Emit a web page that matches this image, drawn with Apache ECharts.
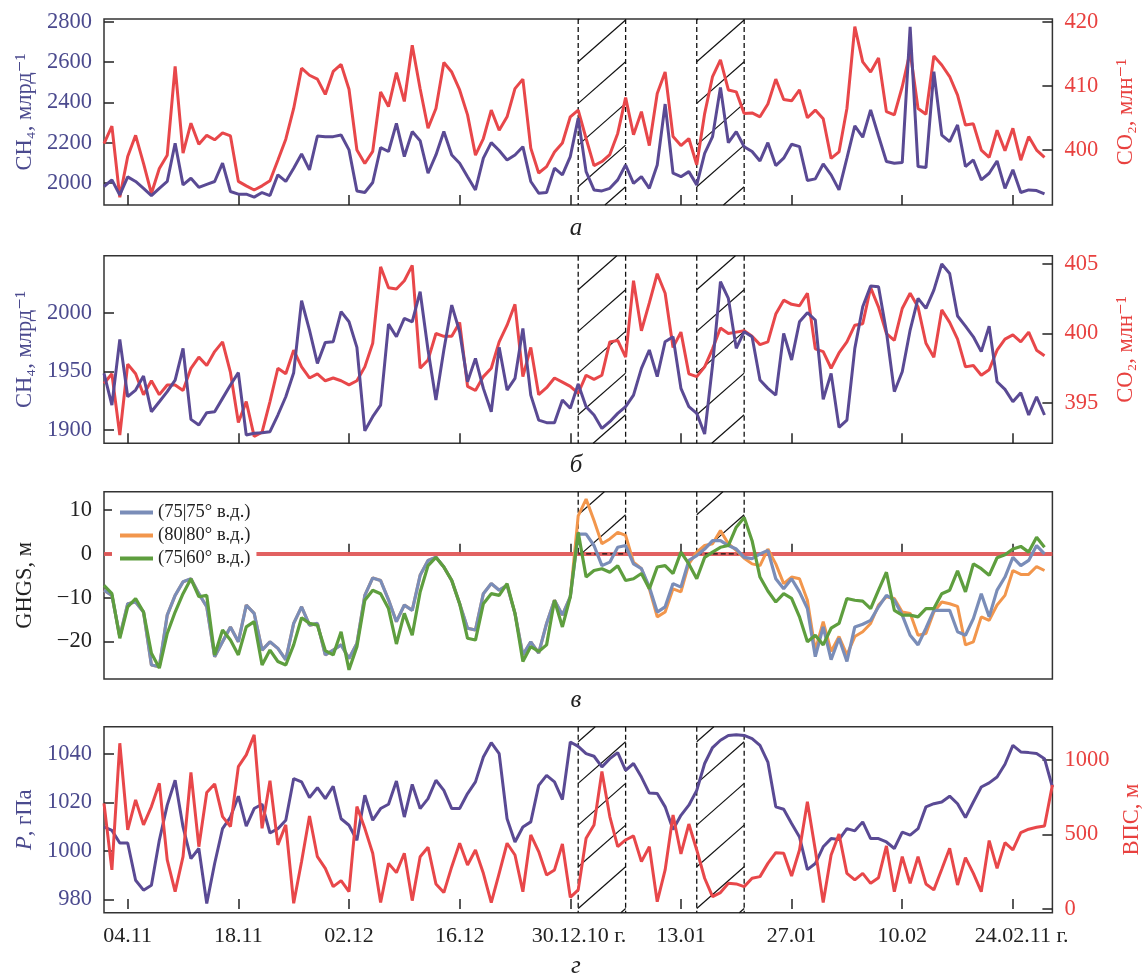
<!DOCTYPE html>
<html><head><meta charset="utf-8">
<script src="https://cdn.jsdelivr.net/npm/echarts@6/dist/echarts.min.js"></script>
<style>html,body{margin:0;padding:0;background:#fff}#c{width:1143px;height:979px}</style>
</head><body><div id="c"></div>
<script>
// ---- data (daily, day 0 = 01.11.2010) ----
const startDate = '01.11.2010';
const tickDays = [3, 17, 31, 45, 59, 73, 87, 101, 115];
const tickLabels = ['04.11','18.11','02.12','16.12','30.12.10 г.','13.01','27.01','10.02','24.02.11 г.'];
const hatchStarts = [60, 75];
const hatchEnds = [66, 81];

const ch4A = [1982,2015,1940,2030,2007,1973,1937,1973,2007,2197,1990,2023,1978,1993,2007,2098,1957,1944,1944,1929,1952,1937,2040,2007,2073,2144,2065,2233,2230,2230,2238,2164,1960,1952,2002,2175,2156,2296,
 2131,2255,2210,2048,2139,2255,2139,2098,2031,1965,2123,2200,2161,2114,2139,2180,2007,1949,1952,2073,2040,2131,2321,2056,1965,1960,1973,2015,2089,1998,2031,1973,2089,2392,2048,2031,2056,1990,2147,2230,2475,2200,2255,
 2180,2156,2109,2200,2086,2123,2192,2180,2012,2020,2094,2040,1965,2123,2283,2227,2363,2233,2106,2098,2101,2776,2081,2076,2553,2238,2205,2288,2081,2114,2015,2048,2109,1973,2065,1952,1965,1962,1945];
const co2A = [401.0,403.75,392.6,399.0,402.3,397.9,393.2,397.1,399.2,413.1,399.5,404.2,400.9,402.3,401.6,402.7,402.2,395.1,394.4,393.75,394.4,395.2,398.4,401.7,406.5,412.8,411.7,411.1,408.7,412.3,413.4,409.5,400.0,397.9,399.8,409.1,406.8,412.1,
 407.6,416.4,409.6,403.4,406.5,413.7,412.2,409.4,405.5,399.2,401.8,406.25,403.1,405.2,409.6,411.1,400.3,396.4,397.4,399.7,401.1,405.2,406.25,401.8,397.55,398.2,399.3,402.6,408.2,402.4,406.0,400.7,408.85,412.2,402.1,400.7,401.8,397.7,405.7,411.5,414.1,409.4,409.1,
 405.7,405.8,405.2,407.2,411.1,407.9,407.7,409.4,405.05,406.25,404.9,398.7,399.7,406.5,419.3,413.8,412.2,414.4,406.0,405.5,409.9,415.4,406.5,405.6,414.7,413.3,411.5,408.6,403.9,404.1,400.0,398.85,403.1,399.9,403.4,398.4,402.1,400.0,398.85];
const ch4B = [1948.3,1921.3,1977.3,1928.4,1934.1,1946.0,1915.6,1924.1,1932.7,1942.6,1969.6,1909.1,1904.3,1914.8,1915.6,1927.0,1938.4,1948.9,1895.7,1897.2,1897.7,1898.6,1912.8,1928.4,1948.9,2010.2,1985.2,1956.8,1974.7,1975.3,2000.9,1992.3,1970.5,1899.4,1911.4,1921.3,1990.3,1979.5,
 1995.2,1992.3,2017.9,1968.2,1925.6,1968.2,2006.5,1983.8,1941.2,1961.1,1935.5,1915.6,1970.5,1934.1,1944.0,1986.6,1929.8,1908.5,1906.3,1906.3,1925.6,1918.5,1939.2,1919.9,1912.8,1901.4,1907.1,1914.2,1919.9,1929.8,1952.6,1968.2,1945.5,1975.3,1979.5,1935.5,1919.9,1914.2,1896.6,1955.4,2026.4,2012.2,1969.6,
 1983.8,1979.5,1942.6,1935.5,1929.8,1982.4,1959.7,1992.3,2000,1993.8,1926.1,1948.3,1902.3,1908.5,1969.6,2005.1,2022.7,2022.2,1983.8,1932.7,1949.7,1985.2,2012.2,2003.7,2019.3,2041.5,2033.5,1997.2,1988.6,1979.5,1966.8,1988.6,1941.2,1934.7,1924.1,1931.8,1912.8,1928.4,1912.8];
const co2B = [396.4,397.1,392.7,397.8,397.1,395.6,396.6,395.6,396.3,396.3,395.9,397.5,398.3,397.7,398.7,399.4,397.2,393.6,395.1,392.6,392.9,395.1,397.5,397.1,398.8,397.6,396.8,397.1,396.6,396.8,396.6,396.3,396.6,397.6,399.3,404.8,403.3,403.2,
 403.8,404.9,397.5,398.1,400.0,399.8,399.8,400.8,396.2,395.9,396.9,397.5,399.4,400.6,402.1,396.9,399.0,395.6,396.1,396.8,396.5,396.2,395.7,397.0,396.7,397.0,399.4,399.5,398.3,403.8,400.2,402.2,404.3,402.9,399.0,400.1,397.1,396.9,397.6,398.9,400.4,400.0,400.1,
 400.2,399.8,399.2,399.4,401.4,402.4,402.1,402.0,402.9,398.9,398.7,397.5,398.6,399.4,400.6,400.7,403.3,401.9,400.0,399.5,401.8,402.9,401.9,399.3,398.3,401.7,400.8,399.6,397.6,397.7,397.0,397.4,398.8,399.6,399.9,399.4,400.1,398.8,398.4];
const ghgs7575 = [-8.3,-9.5,-18.9,-11.4,-11.0,-13.3,-25.4,-25.8,-14.0,-9.5,-6.4,-5.7,-9.1,-12.1,-23.5,-20.1,-16.7,-20.1,-11.7,-13.6,-22.0,-20.1,-21.6,-24.2,-15.9,-12.1,-16.3,-15.9,-23.1,-22.0,-20.8,-23.9,-20.5,-9.5,-5.5,-6.1,-10.5,-15.5,
 -11.7,-12.9,-4.9,-1.5,-0.8,-3.0,-6.1,-11.4,-17.0,-17.4,-9.1,-6.8,-8.3,-7.2,-13.6,-23.1,-20.1,-22.7,-15.9,-10.6,-14.0,-9.8,4.5,
 4.5,1.9,-2.7,-1.9,1.5,1.9,-2.3,-3.4,-7.6,-13.3,-12.1,-6.8,-7.6,-1.5,-0.4,1.1,3.0,3.0,1.9,1.1,
 -0.8,-1.1,0,0.8,-5.7,-8.0,-5.7,-8.7,-12.5,-23.5,-16.7,-24.2,-19.3,-24.6,-16.7,-16.1,-15.2,-12.1,-9.5,-10.6,-14.0,-18.6,-20.8,-17.0,-12.9,-12.9,-12.9,-17.8,-18.6,-14.8,-9.1,-14.4,-8.3,-5.3,-0.8,-2.7,-1.5,1.9,0];
const ghgs8080 = [-8.3,-9.5,-18.9,-11.4,-11.0,-13.3,-25.4,-25.8,-14.0,-9.5,-6.4,-5.7,-9.1,-12.1,-23.5,-20.1,-16.7,-20.1,-11.7,-13.6,-22.0,-20.1,-21.6,-24.2,-15.9,-12.1,-16.3,-15.9,-23.1,-22.0,-20.8,-23.9,-20.5,-9.5,-5.5,-6.1,-10.5,-15.5,
 -11.7,-12.9,-4.9,-1.5,-0.8,-3.0,-6.1,-11.4,-17.0,-17.4,-9.1,-6.8,-8.3,-7.2,-13.6,-23.1,-20.1,-22.7,-15.9,-10.6,-14.0,-9.8,
 8.7,12.5,7.6,2.3,3.4,4.9,4.2,-1.9,-3.4,-8.0,-14.4,-13.3,-8.0,-8.7,-2.3,0.4,1.9,2.3,5.3,2.3,0.8,-1.0,-2.3,-2.7,1.1,-2.3,-6.8,-5.3,-5.7,-10.6,-22.0,-15.5,-22.3,-18.9,-23.1,-18.9,-17.8,-15.9,-11.7,-9.8,-10.2,-13.3,-13.6,-18.6,-18.2,-13.3,-11.0,-11.4,-12.0,-20.8,-20.1,-14.4,-15.2,-11.7,-9.5,-3.8,-4.7,-4.7,-2.9,-3.8];
const ghgs7560 = [-7.2,-9.1,-19.3,-12.1,-10.2,-13.3,-22.7,-26.1,-18.2,-13.3,-9.1,-5.7,-9.8,-9.5,-23.1,-17.4,-19.7,-23.1,-16.7,-15.5,-25.4,-22.0,-24.6,-25.4,-20.8,-14.6,-15.9,-16.3,-22.1,-23.1,-17.8,-26.5,-21.2,-10.6,-8.3,-9.1,-12.5,-20.6,
 -13.6,-18.6,-8.7,-2.7,-0.8,-3.0,-6.1,-11.4,-19.3,-19.7,-11.4,-9.1,-9.5,-6.8,-13.6,-24.6,-21.2,-22.3,-20.8,-10.6,-16.7,-9.8,4.9,
 -5.3,-3.8,-3.4,-4.2,-2.7,-6.1,-5.7,-4.5,-8.0,-3.0,-2.7,-4.5,0.4,-2.3,-5.7,-0.8,0.4,1.5,1.9,6.1,
 8.3,3.0,-5.3,-8.5,-11.0,-9.1,-10.2,-14.4,-20.1,-18.6,-20.8,-17.0,-15.9,-10.2,-10.6,-10.8,-12.5,-8.3,-4.2,-12.9,-14.0,-14.0,-14.4,-12.5,-12.5,-9.1,-8.3,-3.9,-8.7,-2.3,-3.4,-4.9,-0.9,-0.2,1.1,1.7,0.4,3.8,1.5];
const pressure = [1009.9,1008.5,1003.3,1003.3,987.9,983.8,985.8,1004.4,1018.9,1029.2,1009.9,996.8,1001.0,978.3,994.8,1009.2,1014.0,1022.6,1010.2,1017.5,1019.3,1007.4,1009.2,1012.7,1029.9,1028.5,1022.0,1026.1,1021.6,1026.7,1013.3,1010.6,1004.4,1023.0,1012.7,1017.5,1019.3,1028.9,
 1014.0,1027.5,1017.5,1021.6,1029.2,1025.0,1017.5,1017.5,1023.7,1028.5,1038.8,1044.7,1040.2,1013.3,1003.7,1009.9,1012.0,1027.1,1031.2,1028.5,1021.2,1045.0,1043.2,1040.2,1039.1,1034.7,1038.1,1040.6,1033.3,1036.1,1030.5,1023.9,1023.7,1018.2,1008.8,1014.7,1018.9,1025.0,1036.1,1042.7,1045.7,1047.7,1048.0,
 1047.7,1046.4,1043.6,1036.7,1018.2,1017.2,1011.3,1005.8,992.3,994.8,1001.7,1005.1,1004.7,1009.2,1008.3,1012.0,1005.1,1005.1,1003.7,1001.0,1007.8,1006.5,1009.2,1018.2,1019.5,1020.2,1022.6,1019.5,1013.8,1020.2,1026.4,1028.1,1030.5,1035.8,1043.6,1040.9,1040.6,1040.2,1038.1,1026.4];
const vps = [709,262,1112,530,732,564,687,843,329,116,351,917,418,781,839,620,553,955,1034,1168,541,861,430,564,38,318,624,351,273,150,190,116,687,541,374,43,306,244,
 374,56,351,414,168,110,284,441,295,396,239,43,239,441,362,116,497,385,228,262,436,78,128,474,564,922,620,418,463,490,318,418,49,262,631,369,570,396,206,83,110,172,168,
 150,206,217,306,378,374,221,396,720,396,43,362,503,239,195,239,172,210,423,116,351,172,351,168,128,266,407,161,345,239,116,459,273,445,396,512,535,548,557,832];

// ---- style ----
const FONT = '"Liberation Serif", "DejaVu Serif", serif';
const PURPLE = '#5a4a94', RED = '#e8474a', LBL_BLUE = '#4b4a8e', LBL_RED = '#e8413f', INK = '#222';
const GX = 104, GW = 948.4;
const panels = [
  {top: 19, height: 186},
  {top: 255.7, height: 187.6},
  {top: 491.7, height: 187.3},
  {top: 726.7, height: 186}
];
const hatchOffsets = [1, 34, 23, 15];
const HSTEP = 41.7;

const pairs = a => a.map((v, i) => [i, v]);
const minus = v => String(v).replace('-', '\u2212');

function xAxisFor(i) {
  return {
    type: 'value', gridIndex: i, min: 0, max: 120,
    axisLine: {show: false}, splitLine: {show: false},
    axisTick: {inside: true, length: 10, customValues: tickDays, lineStyle: {color: INK, width: 1.5}},
    axisLabel: {
      show: i === 3, customValues: tickDays, margin: 13, fontSize: 22, color: INK, fontFamily: FONT,
      formatter: v => {
        const t = tickLabels[tickDays.indexOf(v)] || '';
        if (t.endsWith(' г.')) return '{h| г.}' + t.slice(0, -3) + '{v| г.}';
        return t;
      },
      rich: {
        h: {color: 'rgba(0,0,0,0)', fontSize: 22, fontFamily: FONT},
        v: {color: INK, fontSize: 22, fontFamily: FONT}
      }
    }
  };
}
function yAxisFor(g, pos, min, max, vals, color, name, gap, rich) {
  return {
    type: 'value', gridIndex: g, position: pos, min, max,
    axisLine: {show: false}, splitLine: {show: false},
    axisTick: {inside: true, length: 10, customValues: vals, lineStyle: {color: INK, width: 1.5}},
    axisLabel: {customValues: vals, margin: 12, fontSize: 22.5, color, fontFamily: FONT, formatter: minus},
    name, nameLocation: 'middle', nameGap: gap,
    nameTextStyle: {fontSize: 22.5, color, fontFamily: FONT, rich: rich || {}}
  };
}

function hatchSeries(g, yIdx, zeroBase) {
  const off = hatchOffsets[g];
  return {
    type: 'custom', xAxisIndex: g, yAxisIndex: yIdx, z: 1, silent: true, clip: false,
    data: hatchStarts.map((s, i) => [s, hatchEnds[i]]),
    encode: {x: [0, 1]},
    renderItem: (params, api) => {
      const cs = params.coordSys;
      const xL = api.coord([api.value(0), 0])[0];
      const xR = api.coord([api.value(1), 0])[0];
      const yT = cs.y;
      const yB = zeroBase ? api.coord([api.value(0), 0])[1] : cs.y + cs.height;
      const w = xR - xL, s = HSTEP / w;
      const ch = [];
      const dash = {stroke: '#111', lineWidth: 1.3, lineDash: [5, 3]};
      ch.push({type: 'line', shape: {x1: xL, y1: yT, x2: xL, y2: yB}, style: dash});
      ch.push({type: 'line', shape: {x1: xR, y1: yT, x2: xR, y2: yB}, style: dash});
      if (zeroBase) ch.push({type: 'line', shape: {x1: xL, y1: yB, x2: xR, y2: yB}, style: dash});
      for (let c = yT + off; c < yB + HSTEP; c += HSTEP) {
        const xa = Math.max(xL, xL + (c - yB) / s);
        const xb = Math.min(xR, xL + (c - yT) / s);
        if (xb - xa > 0.5) ch.push({type: 'line', shape: {x1: xa, y1: c - s * (xa - xL), x2: xb, y2: c - s * (xb - xL)}, style: {stroke: '#111', lineWidth: 1.2}});
      }
      return {type: 'group', children: ch};
    }
  };
}
function lineSeries(name, data, g, yIdx, color, width, z) {
  return {name, type: 'line', xAxisIndex: g, yAxisIndex: yIdx, data: pairs(data), symbol: 'none',
    lineStyle: {color, width: width || 3}, itemStyle: {color}, z: z || 2, silent: true, animation: false};
}

const L7575 = '(75|75° в.д.)', L8080 = '(80|80° в.д.)', L7560 = '(75|60° в.д.)';
const C_BLUE = '#7a8db8', C_ORANGE = '#f2964c', C_GREEN = '#5e9e3e';

const orange = lineSeries(L8080, ghgs8080, 2, 4, C_ORANGE, 3, 2);
orange.markLine = {silent: true, symbol: 'none', label: {show: false}, z: 1,
  lineStyle: {color: '#e05858', width: 4, type: 'solid', opacity: 0.95}, data: [{yAxis: 0}], animation: false};

const option = {
  animation: false,
  backgroundColor: '#fff',
  grid: panels.map(p => ({left: GX, width: GW, top: p.top, height: p.height, show: true, borderColor: '#333', borderWidth: 1.5,
    backgroundColor: 'transparent', containLabel: false, outerBoundsMode: 'none'})),
  xAxis: [0, 1, 2, 3].map(xAxisFor),
  yAxis: [
    yAxisFor(0, 'left', 1890, 2815, [2000, 2200, 2400, 2600, 2800], LBL_BLUE, 'CH₄, млрд⁻¹', 67),
    yAxisFor(0, 'right', 391.4, 420.5, [400, 410, 420], LBL_RED, 'CO₂, млн⁻¹', 62),
    yAxisFor(1, 'left', 1888.7, 2048.6, [1900, 1950, 2000], LBL_BLUE, 'CH₄, млрд⁻¹', 67),
    yAxisFor(1, 'right', 392.1, 405.6, [395, 400, 405], LBL_RED, 'CO₂, млн⁻¹', 62),
    yAxisFor(2, 'left', -28.6, 14.2, [-20, -10, 0, 10], INK, 'GHGS, м', 67),
    yAxisFor(3, 'left', 974.5, 1051.3, [980, 1000, 1020, 1040], LBL_BLUE, '{i|P}, гПа', 67,
      {i: {fontStyle: 'italic', fontSize: 22.5, color: LBL_BLUE, fontFamily: FONT}}),
    yAxisFor(3, 'right', -25, 1223, [0, 500, 1000], LBL_RED, 'ВПС, м', 62)
  ],
  legend: {
    data: [L7575, L8080, L7560], left: 112, top: 499, orient: 'vertical', z: 100, zlevel: 1,
    icon: 'rect', itemWidth: 33, itemHeight: 4, itemGap: 4,
    backgroundColor: '#fff', padding: [4, 6, 4, 8],
    textStyle: {fontSize: 18.5, color: INK, fontFamily: FONT}
  },
  graphic: [
    {type: 'text', x: 576, y: 228, style: {text: 'а', font: 'italic 25px ' + FONT, fill: INK, textAlign: 'center', textVerticalAlign: 'middle'}},
    {type: 'text', x: 576, y: 465, style: {text: 'б', font: 'italic 25px ' + FONT, fill: INK, textAlign: 'center', textVerticalAlign: 'middle'}},
    {type: 'text', x: 576, y: 700, style: {text: 'в', font: 'italic 25px ' + FONT, fill: INK, textAlign: 'center', textVerticalAlign: 'middle'}},
    {type: 'text', x: 576, y: 966, style: {text: 'г', font: 'italic 25px ' + FONT, fill: INK, textAlign: 'center', textVerticalAlign: 'middle'}}
  ],
  series: [
    hatchSeries(0, 0, false), hatchSeries(1, 2, false), hatchSeries(2, 4, true), hatchSeries(3, 5, false),
    lineSeries('CO₂ (а)', co2A, 0, 1, RED),
    lineSeries('CH₄ (а)', ch4A, 0, 0, PURPLE),
    lineSeries('CO₂ (б)', co2B, 1, 3, RED),
    lineSeries('CH₄ (б)', ch4B, 1, 2, PURPLE),
    orange,
    lineSeries(L7575, ghgs7575, 2, 4, C_BLUE, 3.2, 3),
    lineSeries(L7560, ghgs7560, 2, 4, C_GREEN, 3.2, 4),
    lineSeries('P', pressure, 3, 5, PURPLE),
    lineSeries('ВПС', vps, 3, 6, RED)
  ]
};
const chart = echarts.init(document.getElementById('c'), null, {renderer: 'canvas'});
chart.setOption(option);
</script></body></html>
